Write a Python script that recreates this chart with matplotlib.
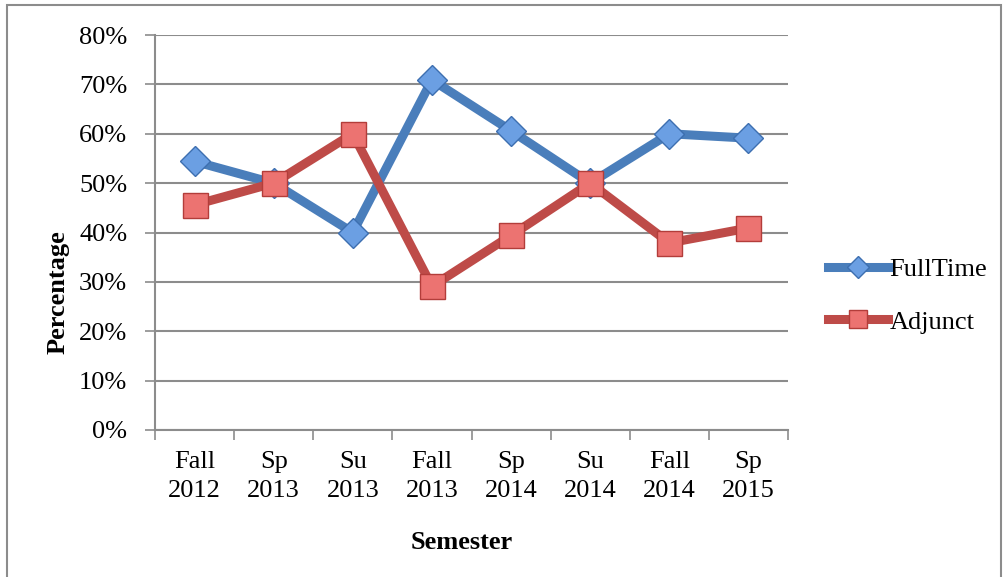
import matplotlib.pyplot as plt
import matplotlib.patches as mpatches
import numpy as np

semesters = ['Fall\n2012', 'Sp\n2013', 'Su\n2013', 'Fall\n2013',
             'Sp\n2014', 'Su\n2014', 'Fall\n2014', 'Sp\n2015']
fulltime = [54.4, 50, 40, 70.9, 60.6, 50, 60, 59.1]
adjunct = [45.6, 50, 60, 29.1, 39.4, 50, 37.9, 40.9]
yticks = [0, 10, 20, 30, 40, 50, 60, 70, 80]

plt.rcParams['font.family'] = ['Liberation Serif', 'DejaVu Serif']

fig = plt.figure(figsize=(10.05, 5.77), dpi=100)
ax = fig.add_axes([155/1005, 1-430/577, (788-155)/1005, (430-35)/577])

# frame around the whole chart
fig.patches.append(mpatches.Rectangle((7/1005, -0.02), (1001-7)/1005, 1.02-5/577,
                                      transform=fig.transFigure, fill=False,
                                      edgecolor='#8c8c8c', linewidth=1.5))

x = np.arange(len(semesters))
ax.plot(x, fulltime, color='#4a7ebb', lw=6.5, marker='D', ms=15,
        mfc='#6b9fe3', mec='#3d6fb0', mew=1, label='FullTime', zorder=3,
        solid_joinstyle='round')
ax.plot(x, adjunct, color='#be4b48', lw=6.5, marker='s', ms=18,
        mfc='#ec7371', mec='#b33d3a', mew=1, label='Adjunct', zorder=4,
        solid_joinstyle='round')

ax.set_xlim(-0.5, len(semesters) - 0.5)
ax.set_ylim(0, 80)
ax.set_yticks(yticks)
ax.set_yticklabels([f'{v}%' for v in yticks], fontsize=19)
ax.set_xticks(x)
ax.set_xticklabels(semesters, fontsize=19, linespacing=1.4)
ax.set_xticks(np.arange(-0.5, len(semesters)), minor=True)
ax.tick_params(axis='x', which='major', length=0, pad=15)
ax.tick_params(axis='x', which='minor', length=7, width=1.2, color='#8c8c8c')
ax.tick_params(axis='y', length=7, width=1.2, color='#8c8c8c', pad=13)

ax.grid(axis='y', color='#8c8c8c', lw=1.5)
ax.set_axisbelow(True)
for s in ['top', 'right']:
    ax.spines[s].set_visible(False)
for s in ['left', 'bottom']:
    ax.spines[s].set_color('#8c8c8c')
    ax.spines[s].set_linewidth(1.5)

ax.set_ylabel('Percentage', fontsize=19, fontweight='bold')
ax.yaxis.set_label_coords(-0.135, 0.35)
ax.set_xlabel('Semester', fontsize=19, fontweight='bold')
ax.xaxis.set_label_coords(0.485, -0.255)

ax.legend(loc='center left', bbox_to_anchor=(1.025, 0.34), frameon=False,
          fontsize=19, handlelength=2.3, handletextpad=0.05, labelspacing=1.1,
          markerscale=0.75)

fig.savefig('out.png', dpi=100)
